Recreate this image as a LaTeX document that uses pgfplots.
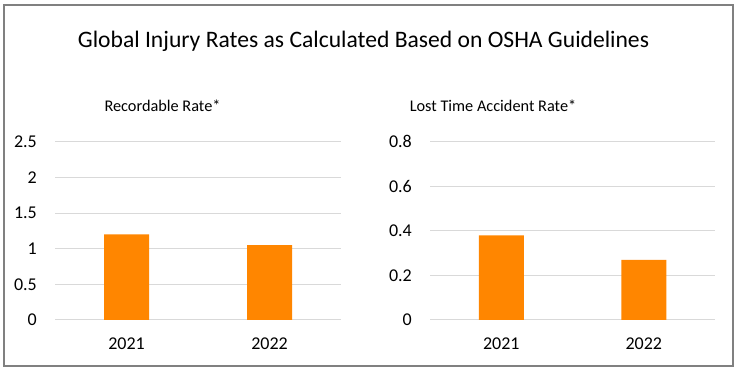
\documentclass[border=0pt]{standalone}
\usepackage{pgfplots}
\pgfplotsset{compat=1.18}
\usepackage{fontspec}
\setmainfont{Carlito}
\definecolor{barorange}{RGB}{255,134,0}
\definecolor{gridgray}{RGB}{217,217,217}
\definecolor{framegray}{RGB}{128,128,128}
\pgfplotsset{
  rateaxis/.style={
    scale only axis, width=286pt, height=178.3pt,
    ybar, bar width=45pt,
    xmin=-0.5, xmax=1.5, xtick={0,1}, xticklabels={2021,2022},
    ymin=0,
    axis line style={draw=none},
    major tick length=0pt,
    ymajorgrids, grid style={gridgray, line width=1pt},
    tick label style={font=\fontsize{18}{21}\selectfont, inner sep=0pt},
    yticklabel style={anchor=east, xshift=-18pt},
    xticklabel style={anchor=base, yshift=-30pt},
    /pgf/number format/assume math mode=true,
    clip=false,
  }
}
\begin{document}
\begin{tikzpicture}[x=1pt,y=1pt]
\path[fill=white] (0,0) rectangle (738,371);
\draw[framegray, line width=1.2pt] (4,5) rectangle (733,366);
\node[font=\fontsize{23.6}{27}\selectfont, anchor=base, inner sep=0pt] at (363.5,323) {Global Injury Rates as Calculated Based on OSHA Guidelines};
\node[font=\fontsize{16.3}{19}\selectfont, anchor=base, inner sep=0pt] at (162.5,259) {Recordable Rate*};
\node[font=\fontsize{16.3}{19}\selectfont, anchor=base, inner sep=0pt] at (493,259) {Lost Time Accident Rate*};
\begin{axis}[rateaxis, at={(55pt,51pt)}, anchor=south west,
  ymax=2.5, ytick={0,0.5,1,1.5,2,2.5}]
\addplot[fill=barorange, draw=none] coordinates {(0,1.2) (1,1.05)};
\end{axis}
\begin{axis}[rateaxis, width=285pt, at={(430pt,51pt)}, anchor=south west,
  ymax=0.8, ytick={0,0.2,0.4,0.6,0.8}]
\addplot[fill=barorange, draw=none] coordinates {(0,0.38) (1,0.27)};
\end{axis}
\end{tikzpicture}
\end{document}
